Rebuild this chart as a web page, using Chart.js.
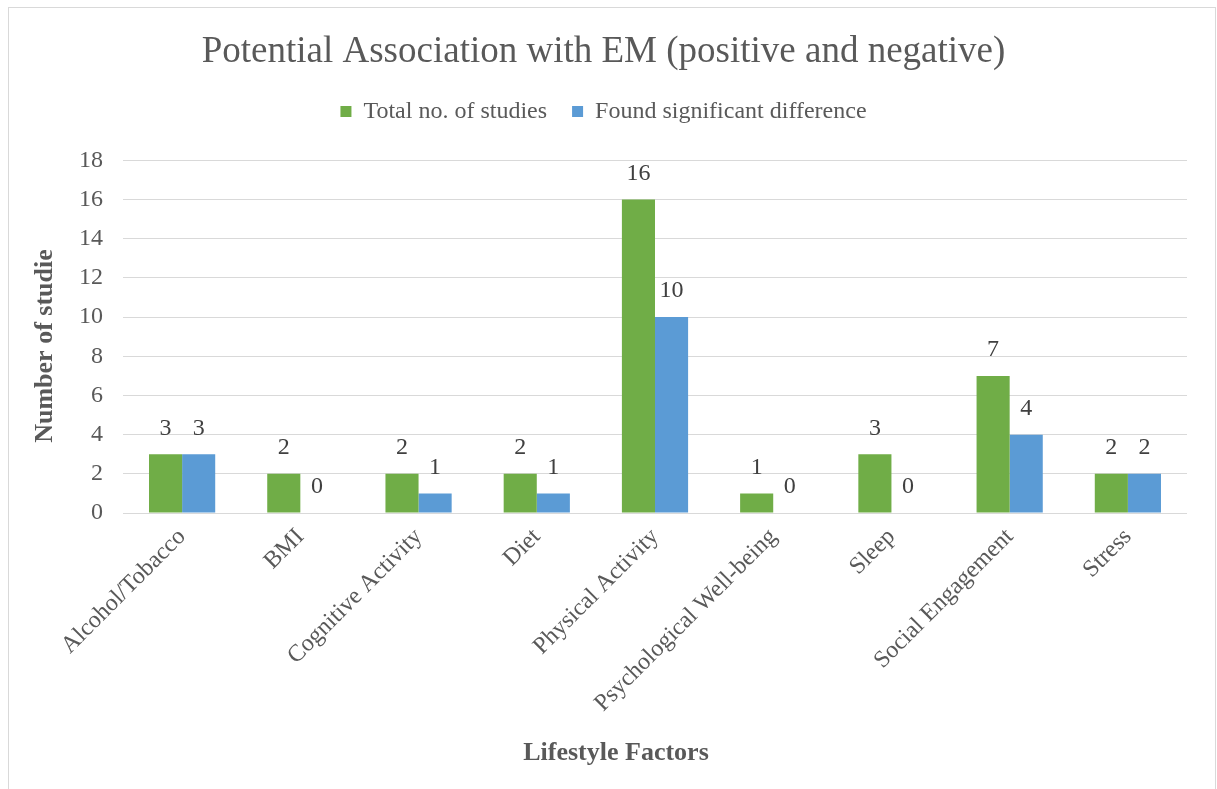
<!DOCTYPE html>
<html>
<head>
<meta charset="utf-8">
<script src="https://cdn.jsdelivr.net/npm/chart.js@4/dist/chart.umd.min.js"></script>
<style>
  html, body { margin: 0; padding: 0; background: #ffffff; }
  #wrap { position: relative; width: 1217px; height: 789px; }
</style>
</head>
<body>
<div id="wrap"><canvas id="chart" width="1217" height="789"></canvas></div>
<script>
// Lifestyle factors examined and the number of studies for each
const categories = [
  'Alcohol/Tobacco', 'BMI', 'Cognitive Activity', 'Diet', 'Physical Activity',
  'Psychological Well-being', 'Sleep', 'Social Engagement', 'Stress'
];
const totalStudies = [3, 2, 2, 2, 16, 1, 3, 7, 2];
const significantStudies = [3, 0, 1, 1, 10, 0, 0, 4, 2];
const yTicks = [0, 2, 4, 6, 8, 10, 12, 14, 16, 18];
const xAxisTitle = 'Lifestyle Factors';
const yAxisTitle = 'Number of studie';

const SERIF = "'Liberation Serif', 'Times New Roman', serif";
const TEXT = '#595959';

// Writes each bar's value just above it
const valueLabels = {
  id: 'valueLabels',
  afterDatasetsDraw(chart) {
    const ctx = chart.ctx;
    ctx.save();
    ctx.font = '24px ' + SERIF;
    ctx.fillStyle = '#404040';
    ctx.textAlign = 'center';
    ctx.textBaseline = 'bottom';
    chart.data.datasets.forEach((ds, i) => {
      chart.getDatasetMeta(i).data.forEach((bar, j) => {
        ctx.fillText(String(ds.data[j]), bar.x, bar.y - 14);
      });
    });
    ctx.restore();
  }
};

// Axis titles, centred on the whole chart box rather than the plot area
const axisTitles = {
  id: 'axisTitles',
  afterDraw(chart) {
    const ctx = chart.ctx;
    ctx.save();
    ctx.font = 'bold 26px ' + SERIF;
    ctx.fillStyle = TEXT;
    ctx.textAlign = 'center';
    ctx.textBaseline = 'middle';
    ctx.fillText(xAxisTitle, 616, 753);
    ctx.translate(45, 346);
    ctx.rotate(-Math.PI / 2);
    ctx.fillText(yAxisTitle, 0, 0);
    ctx.restore();
  }
};

// Leaves extra room between the legend and the plot area
const legendGap = {
  id: 'legendGap',
  beforeLayout(chart) {
    const lg = chart.legend;
    if (lg && !lg._gapWrapped) {
      const fit = lg.fit.bind(lg);
      lg.fit = function () { fit(); this.height += 27; };
      lg._gapWrapped = true;
    }
  }
};

// Thin grey frame around the whole chart
const frame = {
  id: 'frame',
  afterDraw(chart) {
    const ctx = chart.ctx;
    ctx.save();
    ctx.strokeStyle = '#d9d9d9';
    ctx.lineWidth = 1;
    ctx.strokeRect(8.5, 7.5, 1207, 800);
    ctx.restore();
  }
};

new Chart(document.getElementById('chart'), {
  type: 'bar',
  data: {
    labels: categories,
    datasets: [
      { label: 'Total no. of studies', data: totalStudies, backgroundColor: '#70AD47',
        categoryPercentage: 0.56, barPercentage: 1.0 },
      { label: 'Found significant difference', data: significantStudies, backgroundColor: '#5B9BD5',
        categoryPercentage: 0.56, barPercentage: 1.0 }
    ]
  },
  options: {
    responsive: false,
    animation: false,
    layout: { padding: { left: 20, right: 30, top: 0, bottom: 0 } },
    plugins: {
      title: {
        display: true,
        text: 'Potential Association with EM (positive and negative)',
        color: TEXT,
        font: { family: SERIF, size: 37, weight: 'normal' },
        padding: { top: 30, bottom: 0 }
      },
      legend: {
        position: 'top',
        labels: {
          color: TEXT,
          font: { family: SERIF, size: 24 },
          boxWidth: 11,
          boxHeight: 11,
          padding: 25
        }
      },
      tooltip: { enabled: false }
    },
    scales: {
      x: {
        afterFit(scale) { scale.height = 276; },
        grid: { display: false },
        border: { display: false },
        ticks: {
          color: TEXT,
          font: { family: SERIF, size: 24 },
          minRotation: 45,
          maxRotation: 45,
          padding: 2
        }
      },
      y: {
        min: 0,
        max: 18,
        afterBuildTicks(scale) { scale.ticks = yTicks.map(v => ({ value: v })); },
        afterFit(scale) { scale.width = 103; },
        grid: { color: '#d9d9d9', lineWidth: 1, drawTicks: false },
        border: { display: false },
        ticks: {
          color: TEXT,
          font: { family: SERIF, size: 24 },
          padding: 20
        }
      }
    }
  },
  plugins: [valueLabels, axisTitles, legendGap, frame]
});
</script>
</body>
</html>
